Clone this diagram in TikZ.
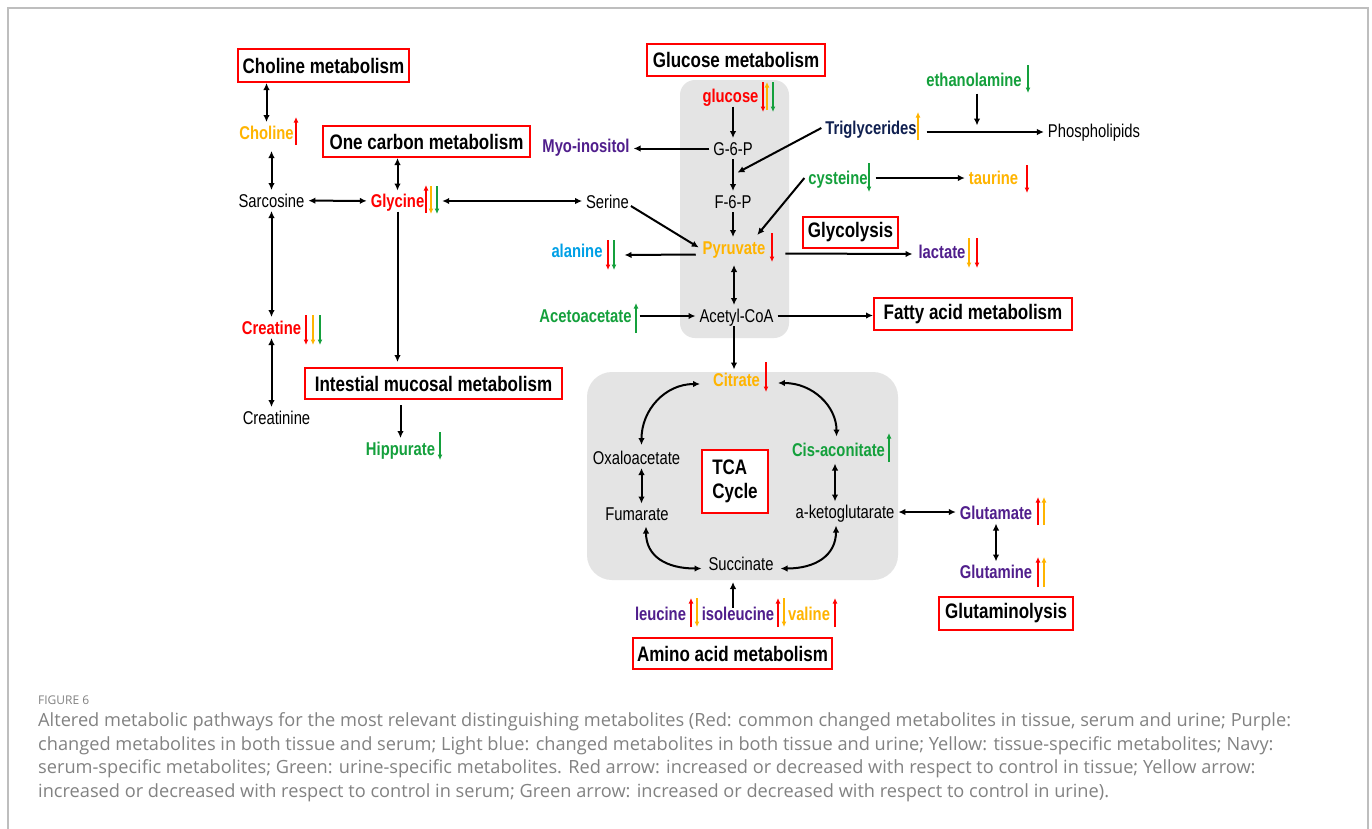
\documentclass[tikz,border=0pt]{standalone}
\usepackage{fontspec}
\setmainfont{Liberation Sans}
\newfontfamily\labfont[FakeStretch=0.8]{Liberation Sans}
\newfontfamily\boxfont[FakeStretch=0.81]{Liberation Sans}
\newfontfamily\capfont{Open Sans}
\usetikzlibrary{arrows.meta,calc}
\definecolor{cred}{RGB}{255,0,0}
\definecolor{cora}{RGB}{255,180,0}
\definecolor{cgrn}{RGB}{20,160,60}
\definecolor{cpur}{RGB}{80,30,140}
\definecolor{cnavy}{RGB}{16,32,80}
\definecolor{clblue}{RGB}{0,160,230}
\definecolor{cpanel}{RGB}{228,228,228}
\definecolor{cframe}{RGB}{190,190,190}
\definecolor{ccap}{RGB}{130,130,130}
\begin{document}
\begin{tikzpicture}[x=1pt,y=-1pt,
  lab/.style={font=\labfont\fontsize{18.5}{18.5}\selectfont, text height=13pt, text depth=0pt, inner sep=0pt, outer sep=4pt},
  blab/.style={lab, font=\labfont\fontsize{18.5}{18.5}\selectfont\bfseries},
  box/.style={draw=cred, line width=2pt, fill=white, font=\boxfont\fontsize{21}{23.5}\selectfont\bfseries, inner sep=0pt},
  conn/.style={line width=2pt, -{Latex[length=7pt,width=6.5pt]}},
  dconn/.style={line width=2pt, {Latex[length=7pt,width=6.5pt]}-{Latex[length=7pt,width=6.5pt]}},
  ind/.style={line width=1.8pt, -{Latex[length=5.5pt,width=5pt]}},
  capt/.style={font=\capfont\fontsize{18.2}{20}\selectfont, text=ccap, inner sep=0pt, anchor=base west},
  panel/.style={fill=cpanel}
]
\useasboundingbox (0,0) rectangle (1372,828);
\fill[white] (0,0) rectangle (1372,828);
\draw[cframe, line width=1.5pt] (8,840) -- (8,8) -- (1368,8) -- (1368,840);

% panels
\fill[panel, rounded corners=15pt] (680,80) rectangle (789,338);
\fill[panel, rounded corners=25pt] (587,372) rectangle (898,580);

% boxes
\node[box, minimum width=171, minimum height=33] (cholbox) at (323.5,65.5) {Choline metabolism};
\node[box, minimum width=207, minimum height=31] (onecbox) at (426.5,141.5) {One carbon metabolism};
\node[box, minimum width=178, minimum height=32] (glucbox) at (736,60) {Glucose metabolism};
\node[box, minimum width=95, minimum height=31] (glycbox) at (850.5,232.5) {Glycolysis};
\node[box, minimum width=198, minimum height=32] (fatbox) at (973,314) {Fatty acid metabolism};
\node[box, minimum width=257, minimum height=31] (intbox) at (433.5,383.5) {Intestial mucosal metabolism};
\node[box, minimum width=66, minimum height=63, align=left] (tcabox) at (735,481.5) {TCA\\Cycle};
\node[box, minimum width=134, minimum height=33] (glnbox) at (1006,613.5) {Glutaminolysis};
\node[box, minimum width=199, minimum height=31] (aabox) at (732.5,653.5) {Amino acid metabolism};

% labels
\node[blab, text=cora] (choline) at (266.5,132.5) {Choline};
\node[lab] (sarc) at (271.5,200.5) {Sarcosine};
\node[blab, text=cred] (glycine) at (397.5,201) {Glycine};
\node[lab] (serine) at (607.5,202) {Serine};
\node[blab, text=cred] (creatine) at (271.5,327.5) {Creatine};
\node[lab] (creatinine) at (276.5,417.5) {Creatinine};
\node[blab, text=cgrn] (hipp) at (400.5,448.5) {Hippurate};
\node[blab, text=cred] (glucose) at (730.5,96) {glucose};
\node[lab] (g6p) at (733,148.5) {G-6-P};
\node[lab] (f6p) at (733,201.5) {F-6-P};
\node[blab, text=cora] (pyr) at (734,247.5) {Pyruvate};
\node[lab] (acoa) at (736.5,315.5) {Acetyl-CoA};
\node[blab, text=cpur] (myo) at (586,146) {Myo-inositol};
\node[blab, text=clblue] (ala) at (577,251) {alanine};
\node[blab, text=cgrn] (aceto) at (585.5,316) {Acetoacetate};
\node[blab, text=cnavy] (trig) at (871,128) {Triglycerides};
\node[lab] (phos) at (1094,131) {Phospholipids};
\node[blab, text=cgrn] (ethan) at (974,80) {ethanolamine};
\node[blab, text=cgrn] (cys) at (838,178) {cysteine};
\node[blab, text=cora] (taur) at (993.5,178) {taurine};
\node[blab, text=cpur] (lact) at (942,252) {lactate};
\node[blab, text=cora] (citrate) at (736.5,380) {Citrate};
\node[blab, text=cgrn] (cis) at (838.5,450) {Cis-aconitate};
\node[lab] (oxalo) at (636.5,457.5) {Oxaloacetate};
\node[lab] (fum) at (637,514) {Fumarate};
\node[lab] (akg) at (845,512) {a-ketoglutarate};
\node[lab] (succ) at (741,563.5) {Succinate};
\node[blab, text=cpur] (glu) at (996,513) {Glutamate};
\node[blab, text=cpur] (gln) at (996,572) {Glutamine};
\node[blab, text=cpur] (leu) at (660.5,614) {leucine};
\node[blab, text=cpur] (ile) at (738,614) {isoleucine};
\node[blab, text=cora] (val) at (809,614) {valine};

% indicator arrows
\draw[ind, cred] (296,145) -- (296,117);
\draw[ind, cred] (426,213) -- (426,185);
\draw[ind, cora] (431,186) -- (431,214);
\draw[ind, cgrn] (437,186) -- (437,214);
\draw[ind, cred] (306,315) -- (306,345);
\draw[ind, cora] (313,315) -- (313,345);
\draw[ind, cgrn] (320,315) -- (320,345);
\draw[ind, cgrn] (440,432) -- (440,460);
\draw[ind, cred] (763,82) -- (763,112);
\draw[ind, cora] (767,110) -- (767,82);
\draw[ind, cgrn] (773,82) -- (773,112);
\draw[ind, cred] (772,233) -- (772,262);
\draw[ind, cred] (608,240) -- (608,270);
\draw[ind, cgrn] (614,240) -- (614,270);
\draw[ind, cgrn] (636,333) -- (636,303);
\draw[ind, cora] (918,140) -- (918,112);
\draw[ind, cgrn] (1028,65) -- (1028,93);
\draw[ind, cgrn] (869,163) -- (869,192);
\draw[ind, cred] (1027,165) -- (1027,193);
\draw[ind, cora] (969,238) -- (969,268);
\draw[ind, cred] (977,238) -- (977,268);
\draw[ind, cred] (766,362) -- (766,392);
\draw[ind, cgrn] (889,462) -- (889,433);
\draw[ind, cred] (1038,525) -- (1038,497);
\draw[ind, cora] (1044,525) -- (1044,497);
\draw[ind, cred] (1038,587) -- (1038,557);
\draw[ind, cora] (1044,587) -- (1044,557);
\draw[ind, cred] (691,627) -- (691,598);
\draw[ind, cora] (697,598) -- (697,627);
\draw[ind, cred] (778,627) -- (778,598);
\draw[ind, cora] (784,598) -- (784,627);
\draw[ind, cred] (835,627) -- (835,598);

% connectors
\draw[dconn] (cholbox.south -| choline) -- (choline.north);
\draw[dconn, shorten <=8pt] (choline.south -| sarc) -- (sarc.north);
\draw[dconn] (sarc) -- (glycine);
\draw[dconn] (onecbox.south -| glycine) -- (glycine.north);
\draw[dconn, shorten <=14pt] (glycine.east) -- (serine.west |- glycine.east);
\draw[dconn] (sarc.south) -- (sarc.south |- creatine.north);
\draw[dconn] (creatine.south) -- (creatine.south |- creatinine.north);
\draw[conn, shorten >=5pt] (glycine.south) -- (glycine.south |- intbox.north);
\draw[conn, shorten <=5pt] (intbox.south -| hipp) -- (hipp.north);
\draw[conn] (glucose.south -| g6p) -- (g6p.north);
\draw[conn] (g6p.west) -- (myo.east |- g6p.west);
\draw[conn] (g6p.south) -- (f6p.north);
\coordinate (tj) at ($(g6p.south)!0.5!(f6p.north)$);
\draw[conn, shorten >=5pt] (trig.west) -- (tj);
\draw[conn] (f6p.south) -- (f6p.south |- pyr.north);
\draw[conn] (cys.west) -- ($(pyr.north east)+(-12,-2)$);
\draw[conn] ($(serine.east)+(-2,4)$) -- (pyr.west);
\draw[conn] ($(pyr.west)+(-3,7)$) -- ($(ala.east)+(18,4)$);
\draw[conn] ($(pyr.east)+(16,6)$) -- ($(lact.west)+(-2,2)$);
\draw[dconn, shorten <=7pt] (pyr.south) -- (pyr.south |- acoa.north);
\draw[conn, shorten <=4pt] (aceto.east) -- (acoa.west |- aceto.east);
\draw[conn] (acoa.east) -- (fatbox.west |- acoa.east);
\draw[conn] (acoa.south -| pyr) -- (citrate.north -| pyr);
\draw[conn] ($(trig.east)+(6,4)$) -- ($(phos.west)+(0,1)$);
\draw[conn] ($(ethan.south)+(3,3)$) -- ($(ethan.south)+(3,35)$);
\draw[conn, shorten <=4pt] (cys.east) -- (taur.west |- cys.east);
\draw[dconn] ($(citrate.east)+(14,3)$) .. controls +(35,0) and +(0,-30) .. ($(cis.north)+(-2,-3)$);
\draw[dconn] ($(citrate.west)+(-9,4)$) .. controls +(-35,0) and +(0,-35) .. ($(oxalo.north)+(5,-2)$);
\draw[dconn] ($(oxalo.south)+(5,0)$) -- ($(fum.north)+(4.5,0)$);
\draw[dconn] ($(fum.south)+(9,2)$) .. controls +(0,30) and +(-35,0) .. ($(succ.west)+(-3,5)$);
\draw[dconn] ($(succ.east)+(3,5)$) .. controls +(35,0) and +(0,30) .. ($(akg.south)+(-9,3)$);
\draw[dconn] ($(cis.south)+(-3.5,3)$) -- ($(akg.north)+(-10,0)$);
\draw[dconn] (akg.east) -- (glu.west |- akg.east);
\draw[dconn] (glu.south) -- (gln.north);
\draw[conn] ($(ile.north)+(-5,4)$) -- ($(succ.south)+(-8,8)$);

% caption
\node[capt, font=\capfont\fontsize{12}{14}\selectfont] (figlab) at (38,704.5) {FIGURE 6};
\node[capt] (cap1) at (38,726.5) {Altered metabolic pathways for the most relevant distinguishing metabolites (Red: common changed metabolites in tissue, serum and urine; Purple:};
\node[capt] (cap2) at (38,750) {changed metabolites in both tissue and serum; Light blue: changed metabolites in both tissue and urine; Yellow: tissue-specific metabolites; Navy:};
\node[capt] (cap3) at (38,773.5) {serum-specific metabolites; Green: urine-specific metabolites. Red arrow: increased or decreased with respect to control in tissue; Yellow arrow:};
\node[capt] (cap4) at (38,797) {increased or decreased with respect to control in serum; Green arrow: increased or decreased with respect to control in urine).};
\end{tikzpicture}
\end{document}
